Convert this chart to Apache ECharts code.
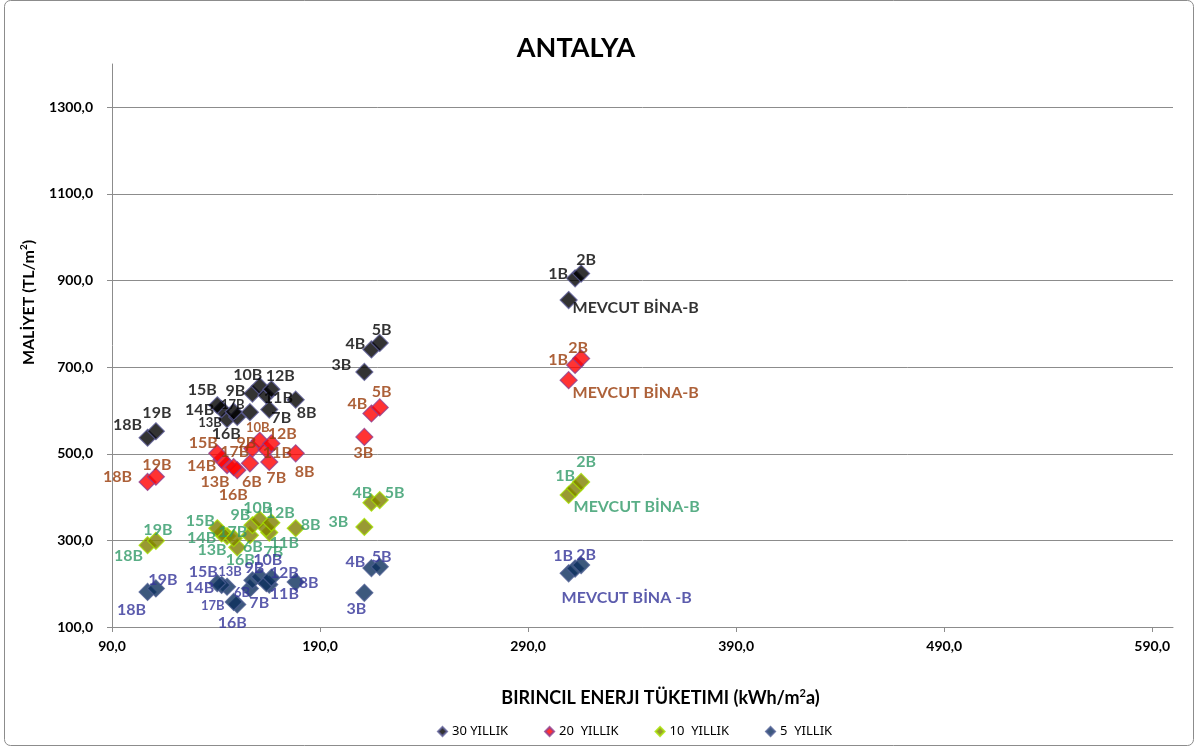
<!DOCTYPE html>
<html>
<head>
<meta charset="utf-8">
<script src="https://cdn.jsdelivr.net/npm/echarts@6/dist/echarts.min.js"></script>
<style>
  html, body { margin: 0; padding: 0; background: #fff; }
  #chart { width: 1198px; height: 747px; }
</style>
</head>
<body>
<div id="chart"></div>
<script>
// nokta isimleri (MEVCUT + 1B..19B)
const pointNames = ['MEVCUT BİNA-B', '1B', '2B', '3B', '4B', '5B', '6B', '7B', '8B', '9B',
  '10B', '11B', '12B', '13B', '14B', '15B', '16B', '17B', '18B', '19B']
const mevcutNames = ['MEVCUT BİNA-B', 'MEVCUT BİNA-B', 'MEVCUT BİNA-B', 'MEVCUT BİNA -B']

// birincil enerji tuketimi (kWh/m2a)
const energy = [309.5, 312.6, 315.5, 211.3, 214.7, 218.7, 156.3, 165.6, 178.3, 157.5,
  161.0, 164.2, 166.6, 145.3, 142.7, 140.6, 150.2, 148.5, 107.1, 111.1]

// maliyet (TL/m2)
const cost30 = [855, 905, 916, 689, 741, 756, 596, 602, 625, 639, 656, 635, 649, 580, 603, 612, 585, 597, 537, 552]
const cost20 = [670, 705, 720, 539, 593, 607, 478, 481, 501, 512, 530, 510, 524, 474, 487, 501, 462, 469, 435, 447]
const cost10 = [405, 420, 435, 331, 387, 393, 312, 318, 328, 335, 348, 328, 341, 310, 316, 328, 284, 305, 289, 299]
const cost5 = [224, 235, 243, 179, 236, 239, 189, 198, 204, 208, 216, 201, 214, 193, 197, 201, 152, 158, 181, 189]

const seriesNames = ['30 YILLIK', '20  YILLIK', '10  YILLIK', '5  YILLIK']
const xTicks = [90, 190, 290, 390, 490, 590]
const yTicks = [100, 300, 500, 700, 900, 1100, 1300]

// etiket kaydirmalari [dx, dy] (nokta merkezine gore)
const off30 = [[67, 8], [-17, -5], [5, -14], [-23, -7], [-16, -6], [2, -13], null, [12, 8], [11, 13], [-17, -3],
  [-12, -11], [12, 3], [9, -13], [-17, 4], [-22, 1], [-15, -15], [-11, 17], [-1, -7], [-20, -13], [1, -18]]
const off20 = [[67, 13], [-17, -5], [-3, -11], [-1, 16], [-14, -10], [2, -16], [2, 19], [7, 16], [9, 19], [-6, -6],
  [-2, -13], [11, 3], [11, -10], [-12, 17], [-20, 6], [-14, -10], [-4, 25], [1, -15], [-30, -5], [1, -12]]
const off10 = [[68, 12], [-10, -13], [5, -20], [-26, -5], [-9, -10], [15, -7], [3, 12], [4, 19], [15, -3], [-12, -10],
  [-2, -12], [18, 15], [9, -10], [-15, 14], [-20, 4], [-17, -7], [3, 13], [-1, -6], [-19, 11], [2, -11]]
const off5 = [[58, 25], [-12, -13], [5, -10], [-8, 16], [-16, -6], [2, -10], [-8, 4], [-10, 18], [13, 1], [2, -12],
  [8, -17], [18, 11], [13, -5], [3, -15], [-22, 3], [-14, -11], [-5, 18], [-21, 4], [-16, 18], [7, -9]]
const smallLabels = [['17B', '13B'], ['10B'], [], ['13B', '17B', '6B']]

const FONT = 'Lato, "Noto Sans", sans-serif'

const styles = [
  { fill: '#000000', border: '#5c5c96', text: '#000000' },
  { fill: '#ff0000', border: '#8e3f8e', text: '#993a08' },
  { fill: '#7f7f00', border: '#a6e000', text: '#2f9a68' },
  { fill: '#0c2f5c', border: '#4e5e92', text: '#333399' }
]

const costs = [cost30, cost20, cost10, cost5]
const offsets = [off30, off20, off10, off5]

function fmt(v) {
  return v.toFixed(1).replace('.', ',')
}

const series = costs.map((cost, s) => ({
  type: 'scatter',
  name: seriesNames[s],
  symbol: 'diamond',
  symbolSize: 17,
  itemStyle: {
    color: styles[s].fill,
    borderColor: styles[s].border,
    borderWidth: 1.2
  },
  label: {
    show: true,
    position: 'inside',
    color: styles[s].text,
    fontFamily: FONT,
    fontWeight: 'bold',
    fontSize: 16,
    textBorderWidth: 0,
    formatter: (p) => p.name
  },
  emphasis: { disabled: true },
  z: 2 + s,
  data: cost.map((c, i) => {
    const name = i === 0 ? mevcutNames[s] : pointNames[i]
    const off = offsets[s][i]
    return {
      name: name,
      value: [energy[i], c],
      label: off
        ? { offset: off, fontSize: smallLabels[s].indexOf(name) >= 0 ? 13 : 16 }
        : { show: false }
    }
  })
}))

let myChart = echarts.init(document.getElementById('chart'))
myChart.setOption({
  animation: false,
  backgroundColor: '#fff',
  title: {
    text: 'ANTALYA',
    left: 571,
    top: 30,
    textAlign: 'center',
    textStyle: {
      fontFamily: FONT,
      fontWeight: 'bold',
      fontSize: 27,
      color: '#000'
    }
  },
  graphic: [{
    type: 'rect',
    shape: { x: 4.5, y: 0.5, width: 1189, height: 745, r: 6 },
    style: { fill: 'none', stroke: '#8c8c8c', lineWidth: 1 },
    silent: true
  }],
  legend: {
    data: seriesNames,
    left: 432,
    top: 720,
    icon: 'diamond',
    itemWidth: 9,
    itemHeight: 9,
    itemGap: 36,
    textStyle: {
      fontFamily: '"Noto Sans", sans-serif',
      fontSize: 13,
      color: '#000'
    }
  },
  grid: {
    left: 112,
    right: 25,
    top: 64,
    bottom: 120
  },
  xAxis: {
    type: 'value',
    min: 90,
    max: 600,
    name: 'BIRINCIL ENERJI TÜKETIMI (kWh/m{sup|2}a)',
    nameLocation: 'middle',
    nameGap: 61,
    nameTextStyle: {
      fontFamily: FONT,
      fontWeight: 'bold',
      fontSize: 18,
      color: '#000',
      padding: [0, 0, 0, 36],
      rich: {
        sup: { fontFamily: FONT, fontWeight: 'bold', fontSize: 11, color: '#000', padding: [0, 0, 10, 0] }
      }
    },
    axisLine: { show: true, lineStyle: { color: '#8c8c8c', width: 1 } },
    axisTick: { show: true, length: 5, lineStyle: { color: '#8c8c8c' }, customValues: xTicks },
    axisLabel: {
      customValues: xTicks,
      formatter: fmt,
      margin: 12,
      fontFamily: FONT,
      fontWeight: 'bold',
      fontSize: 14,
      color: '#000'
    },
    splitLine: { show: false }
  },
  yAxis: {
    type: 'value',
    min: 100,
    max: 1400,
    name: 'MALİYET (TL/m{sup|2})',
    nameLocation: 'middle',
    nameGap: 74,
    nameRotate: 90,
    nameTextStyle: {
      fontFamily: FONT,
      fontWeight: 'bold',
      fontSize: 16,
      color: '#000',
      padding: [0, 0, 0, 86],
      rich: {
        sup: { fontFamily: FONT, fontWeight: 'bold', fontSize: 10, color: '#000', padding: [0, 0, 9, 0] }
      }
    },
    axisLine: { show: true, lineStyle: { color: '#8c8c8c', width: 1 } },
    axisTick: { show: true, length: 5, lineStyle: { color: '#8c8c8c' }, customValues: yTicks },
    axisLabel: {
      customValues: yTicks,
      formatter: fmt,
      margin: 19,
      fontFamily: FONT,
      fontWeight: 'bold',
      fontSize: 14,
      color: '#000'
    },
    splitLine: { show: true, lineStyle: { color: '#8c8c8c', width: 1 } }
  },
  series: series
})
</script>
</body>
</html>
